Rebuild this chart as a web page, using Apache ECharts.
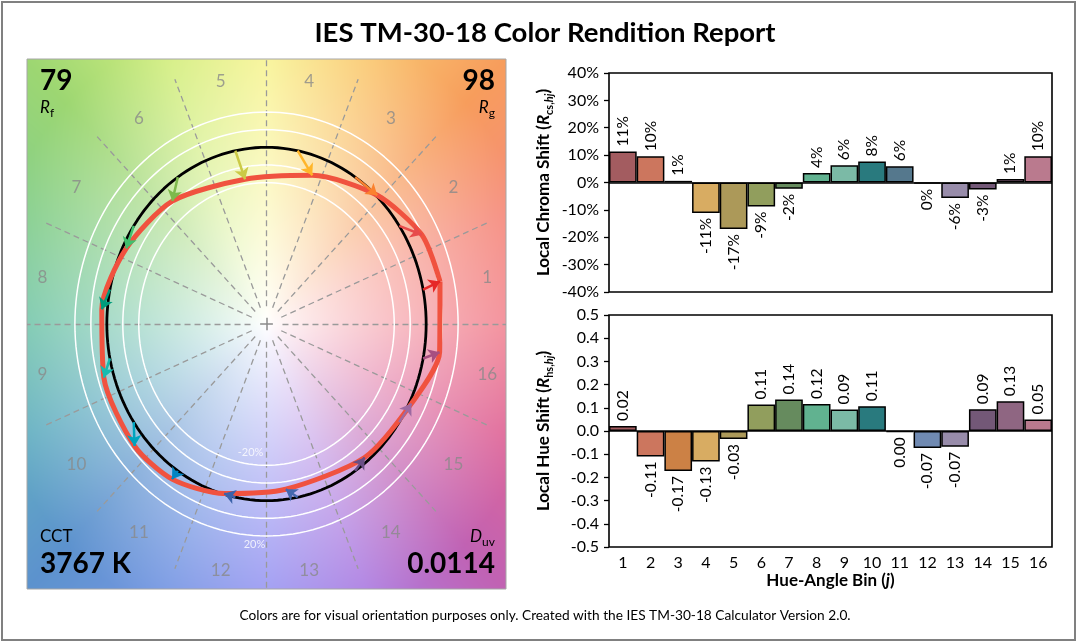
<!DOCTYPE html>
<html>
<head>
<meta charset="utf-8">
<title>IES TM-30-18 Color Rendition Report</title>
<script src="https://cdn.jsdelivr.net/npm/echarts@6/dist/echarts.min.js"></script>
<style>
  html, body { margin: 0; padding: 0; background: #fff; }
  #chart { width: 1077px; height: 642px; }
</style>
</head>
<body>
<div id="chart"></div>
<script>
// hue-angle bins and the two local shift series
const bins = ['1', '2', '3', '4', '5', '6', '7', '8', '9', '10', '11', '12', '13', '14', '15', '16'];
const chromaShift = [0.113, 0.096, 0.006, -0.111, -0.170, -0.088, -0.023, 0.035, 0.063, 0.077, 0.059, -0.004, -0.057, -0.026, 0.013, 0.096];
const hueShift = [0.022, -0.110, -0.172, -0.132, -0.034, 0.114, 0.136, 0.116, 0.093, 0.107, -0.004, -0.073, -0.068, 0.094, 0.128, 0.050];
const barColors = ['#A35C60', '#CC765E', '#CC8145', '#D8AC62', '#AC9959', '#919E5D', '#668B5E', '#61B290',
                   '#7BBAA6', '#297A7E', '#55788D', '#708AB2', '#988CAA', '#735877', '#8F6682', '#BA7A8E'];
const arrowColors = ['#E62828', '#E74B4B', '#FB812E', '#FFB529', '#CBCA46', '#7EB94C', '#41C06D', '#009C7C',
                     '#16BCB0', '#00A4BF', '#0085C3', '#3B62AA', '#4568AE', '#6A4E85', '#9D69A1', '#A74F81'];
const rf = '79', rg = '98', cct = '3767 K', duv = '0.0114';
const ringRadii = [0.8, 0.9, 1.1, 1.2];

const FONT = 'Lato, "Liberation Sans", sans-serif';
const RAD = Math.PI / 180;
const binWidth = 360 / bins.length;

// panel geometry (pixels)
const P = { left: 27, top: 59, width: 479, height: 530 };

const refPts = bins.map((b, i) => {
  const a = (i + 0.5) * binWidth * RAD;
  return [Math.cos(a), Math.sin(a)];
});
const testPts = bins.map((b, i) => {
  const a = (i + 0.5) * binWidth * RAD + hueShift[i];
  const r = 1 + chromaShift[i];
  return [r * Math.cos(a), r * Math.sin(a)];
});

function ring(r) {
  const pts = [];
  for (let k = 0; k <= 180; k++) {
    const a = k * 2 * RAD;
    pts.push([r * Math.cos(a), r * Math.sin(a)]);
  }
  return pts;
}

// background colour wheel
const hueStops = [
  [0, 240, 118, 132], [22.5, 244, 126, 110], [45, 246, 146, 74], [67.5, 249, 196, 100],
  [90, 247, 242, 132], [112.5, 206, 236, 114], [135, 146, 210, 98], [157.5, 118, 200, 126],
  [180, 98, 190, 160], [202.5, 82, 166, 186], [225, 74, 134, 200], [247.5, 104, 140, 224],
  [270, 138, 136, 240], [292.5, 164, 112, 222], [315, 186, 80, 170], [337.5, 220, 86, 140],
  [360, 240, 118, 132]
];
function hueColor(deg) {
  for (let k = 0; k < hueStops.length - 1; k++) {
    const a = hueStops[k], b = hueStops[k + 1];
    if (deg >= a[0] && deg <= b[0]) {
      const t = (deg - a[0]) / (b[0] - a[0]);
      return [a[1] + (b[1] - a[1]) * t, a[2] + (b[2] - a[2]) * t, a[3] + (b[3] - a[3]) * t];
    }
  }
  return [255, 255, 255];
}
function makeBackground(w, h) {
  const c = document.createElement('canvas');
  c.width = w; c.height = h;
  const ctx = c.getContext('2d');
  const img = ctx.createImageData(w, h);
  for (let y = 0; y < h; y++) {
    for (let x = 0; x < w; x++) {
      const dx = (x + 0.5) / w * 3 - 1.5;
      const dy = 1.5 - (y + 0.5) / h * 3;
      const r = Math.sqrt(dx * dx + dy * dy);
      let deg = Math.atan2(dy, dx) / RAD;
      if (deg < 0) deg += 360;
      const col = hueColor(deg);
      const s = Math.min(0.9, Math.pow(r / 2.0, 0.85));
      const o = (y * w + x) * 4;
      img.data[o] = 255 + (col[0] - 255) * s;
      img.data[o + 1] = 255 + (col[1] - 255) * s;
      img.data[o + 2] = 255 + (col[2] - 255) * s;
      img.data[o + 3] = 255;
    }
  }
  ctx.putImageData(img, 0, 0);
  return c;
}
const bgCanvas = makeBackground(P.width, P.height);

// spokes at bin edges
const spokes = [];
for (let k = 0; k < bins.length; k++) {
  const a = k * binWidth * RAD;
  spokes.push({ coords: [[0.1 * Math.cos(a), 0.1 * Math.sin(a)], [1.5 * Math.cos(a), 1.5 * Math.sin(a)]] });
}
const cross = [
  { coords: [[-0.04, 0], [0.04, 0]] },
  { coords: [[0, -0.035], [0, 0.035]] }
];

const arrows = bins.map((b, i) => ({
  coords: [refPts[i], testPts[i]],
  lineStyle: { color: arrowColors[i] }
}));

const binLabels = bins.map((b, i) => {
  const a = (i + 0.5) * binWidth * RAD;
  return [-0.01 + 1.42 * Math.cos(a), -0.01 + 1.41 * Math.sin(a), b];
});

function barItems(vals, fmt) {
  return vals.map((v, i) => ({
    value: v,
    itemStyle: { color: barColors[i] },
    label: {
      show: true,
      position: v >= 0 ? 'top' : 'bottom',
      rotate: 90,
      align: v >= 0 ? 'left' : 'right',
      verticalAlign: 'middle',
      distance: 5,
      formatter: fmt(v)
    }
  }));
}
const pct = v => Math.round(v * 100) + '%';
const dec = v => (Math.abs(v) < 0.005 ? 0 : v).toFixed(2);

const nameRich = {
  b: { fontFamily: FONT, fontWeight: 'bold', fontSize: 17, color: '#000', lineHeight: 22 },
  i: { fontFamily: FONT, fontWeight: 'bold', fontStyle: 'italic', fontSize: 17, color: '#000', lineHeight: 22 },
  s: { fontFamily: FONT, fontWeight: 'bold', fontSize: 11, color: '#000', lineHeight: 13, verticalAlign: 'bottom' },
  si: { fontFamily: FONT, fontWeight: 'bold', fontStyle: 'italic', fontSize: 11, color: '#000', lineHeight: 13, verticalAlign: 'bottom' }
};
const cornerRich = {
  i: { fontFamily: FONT, fontStyle: 'italic', fontSize: 17, color: '#000', lineHeight: 22 },
  s: { fontFamily: FONT, fontSize: 12, color: '#000', lineHeight: 13, verticalAlign: 'bottom' }
};

const chart = echarts.init(document.getElementById('chart'));
const option = {
  backgroundColor: '#fff',
  animation: false,
  textStyle: { fontFamily: FONT },
  graphic: [
    { type: 'rect', z: -10, shape: { x: 2, y: 2, width: 1073, height: 638 },
      style: { fill: '#fff', stroke: '#808080', lineWidth: 2 } },
    { type: 'image', z: -5, style: { image: bgCanvas, x: P.left, y: P.top, width: P.width, height: P.height } },
    { type: 'text', z: 10, x: 545, y: 33,
      style: { text: 'IES TM-30-18 Color Rendition Report', fontFamily: FONT, fontWeight: 'bold', fontSize: 27.5,
               fill: '#000', align: 'center', verticalAlign: 'middle' } },
    { type: 'text', z: 10, x: 545, y: 616,
      style: { text: 'Colors are for visual orientation purposes only. Created with the IES TM-30-18 Calculator Version 2.0.',
               fontFamily: FONT, fontSize: 13.7, fill: '#000', align: 'center', verticalAlign: 'middle' } },
    { type: 'text', z: 10, x: 40, y: 81,
      style: { text: rf, fontFamily: FONT, fontWeight: 'bold', fontSize: 28, fill: '#000', align: 'left', verticalAlign: 'middle' } },
    { type: 'text', z: 10, x: 40, y: 108,
      style: { text: '{i|R}{s|f}', rich: cornerRich, align: 'left', verticalAlign: 'middle' } },
    { type: 'text', z: 10, x: 495, y: 81,
      style: { text: rg, fontFamily: FONT, fontWeight: 'bold', fontSize: 28, fill: '#000', align: 'right', verticalAlign: 'middle' } },
    { type: 'text', z: 10, x: 495, y: 108,
      style: { text: '{i|R}{s|g}', rich: cornerRich, align: 'right', verticalAlign: 'middle' } },
    { type: 'text', z: 10, x: 40, y: 537,
      style: { text: 'CCT', fontFamily: FONT, fontSize: 17, fill: '#000', align: 'left', verticalAlign: 'middle' } },
    { type: 'text', z: 10, x: 40, y: 564,
      style: { text: cct, fontFamily: FONT, fontWeight: 'bold', fontSize: 28, fill: '#000', align: 'left', verticalAlign: 'middle' } },
    { type: 'text', z: 10, x: 495, y: 537,
      style: { text: '{i|D}{s|uv}', rich: cornerRich, align: 'right', verticalAlign: 'middle' } },
    { type: 'text', z: 10, x: 495, y: 564,
      style: { text: duv, fontFamily: FONT, fontWeight: 'bold', fontSize: 28, fill: '#000', align: 'right', verticalAlign: 'middle' } }
  ],
  grid: [
    { left: P.left, top: P.top, width: P.width, height: P.height, show: true, borderColor: '#a6a6a6', borderWidth: 1 },
    { left: 609, top: 73, width: 443, height: 219, show: true, borderColor: '#000', borderWidth: 1.6 },
    { left: 609, top: 315, width: 443, height: 232, show: true, borderColor: '#000', borderWidth: 1.6 }
  ],
  xAxis: [
    { gridIndex: 0, type: 'value', min: -1.5, max: 1.5, show: false },
    { gridIndex: 1, type: 'category', data: bins, axisLine: { show: false }, axisTick: { show: false },
      axisLabel: { show: false } },
    { gridIndex: 2, type: 'category', data: bins, axisLine: { show: false, onZero: false }, axisTick: { show: false },
      axisLabel: { color: '#000', fontSize: 16, fontFamily: FONT, margin: 8 },
      name: '{b|Hue-Angle Bin (}{i|j}{b|)}', nameLocation: 'middle', nameGap: 23,
      nameTextStyle: { rich: nameRich } }
  ],
  yAxis: [
    { gridIndex: 0, type: 'value', min: -1.5, max: 1.5, show: false },
    { gridIndex: 1, type: 'value', min: -0.4, max: 0.4, interval: 0.1,
      axisLine: { show: false }, axisTick: { show: true, length: 5, lineStyle: { color: '#000', width: 1.3 } },
      splitLine: { show: false },
      axisLabel: { formatter: pct, color: '#000', fontSize: 16, fontFamily: FONT, margin: 10 },
      name: '{b|Local Chroma Shift (}{i|R}{s|cs,}{si|hj}{b|)}', nameLocation: 'middle', nameGap: 54,
      nameTextStyle: { rich: nameRich } },
    { gridIndex: 2, type: 'value', min: -0.5, max: 0.5, interval: 0.1,
      axisLine: { show: false }, axisTick: { show: true, length: 5, lineStyle: { color: '#000', width: 1.3 } },
      splitLine: { show: false },
      axisLabel: { formatter: v => v.toFixed(1), color: '#000', fontSize: 16, fontFamily: FONT, margin: 10 },
      name: '{b|Local Hue Shift (}{i|R}{s|hs,}{si|hj}{b|)}', nameLocation: 'middle', nameGap: 54,
      nameTextStyle: { rich: nameRich } }
  ],
  series: [
    { type: 'lines', coordinateSystem: 'cartesian2d', xAxisIndex: 0, yAxisIndex: 0, silent: true, z: 1,
      data: spokes, lineStyle: { color: '#9a9a9a', width: 1.3, type: [6, 4], opacity: 1 } },
    { type: 'lines', coordinateSystem: 'cartesian2d', xAxisIndex: 0, yAxisIndex: 0, silent: true, z: 1,
      data: cross, lineStyle: { color: '#8a8a8a', width: 1.5, opacity: 1 } },
    ...ringRadii.map(r => ({
      type: 'line', xAxisIndex: 0, yAxisIndex: 0, data: ring(r), showSymbol: false, silent: true, z: 2,
      lineStyle: { color: '#fff', width: 1.5 }
    })),
    { type: 'line', xAxisIndex: 0, yAxisIndex: 0, data: ring(1), showSymbol: false, silent: true, z: 3,
      lineStyle: { color: '#000', width: 2.8 } },
    { type: 'line', xAxisIndex: 0, yAxisIndex: 0, data: testPts.concat([testPts[0]]), showSymbol: false,
      smooth: 0.25, silent: true, z: 4, lineStyle: { color: '#f0523f', width: 5 } },
    { type: 'lines', coordinateSystem: 'cartesian2d', xAxisIndex: 0, yAxisIndex: 0, silent: true, z: 5,
      data: arrows, symbol: ['none', 'arrow'], symbolSize: 11, lineStyle: { width: 2.5, opacity: 1 } },
    { type: 'scatter', xAxisIndex: 0, yAxisIndex: 0, data: binLabels, symbolSize: 1, silent: true, z: 6,
      itemStyle: { color: 'transparent' },
      label: { show: true, position: 'inside', formatter: p => p.value[2], color: '#8a8a8a', fontSize: 17, fontFamily: FONT } },
    { type: 'scatter', xAxisIndex: 0, yAxisIndex: 0, data: [[-0.1, -0.727, '-20%'], [-0.075, -1.248, '20%']],
      symbolSize: 1, silent: true, z: 6, itemStyle: { color: 'transparent' },
      label: { show: true, position: 'inside', formatter: p => p.value[2], color: '#fff', fontSize: 11, fontFamily: FONT } },
    { type: 'bar', xAxisIndex: 1, yAxisIndex: 1, data: barItems(chromaShift, pct), barCategoryGap: '0%',
      itemStyle: { borderColor: '#000', borderWidth: 1.5 },
      label: { color: '#000', fontSize: 15.5, fontFamily: FONT },
      markLine: { silent: true, symbol: 'none', label: { show: false }, animation: false,
                  lineStyle: { color: '#000', width: 1.6, type: 'solid' }, data: [{ yAxis: 0 }] } },
    { type: 'bar', xAxisIndex: 2, yAxisIndex: 2, data: barItems(hueShift, dec), barCategoryGap: '0%',
      itemStyle: { borderColor: '#000', borderWidth: 1.5 },
      label: { color: '#000', fontSize: 15.5, fontFamily: FONT },
      markLine: { silent: true, symbol: 'none', label: { show: false }, animation: false,
                  lineStyle: { color: '#000', width: 1.6, type: 'solid' }, data: [{ yAxis: 0 }] } }
  ]
};
chart.setOption(option);
</script>
</body>
</html>
